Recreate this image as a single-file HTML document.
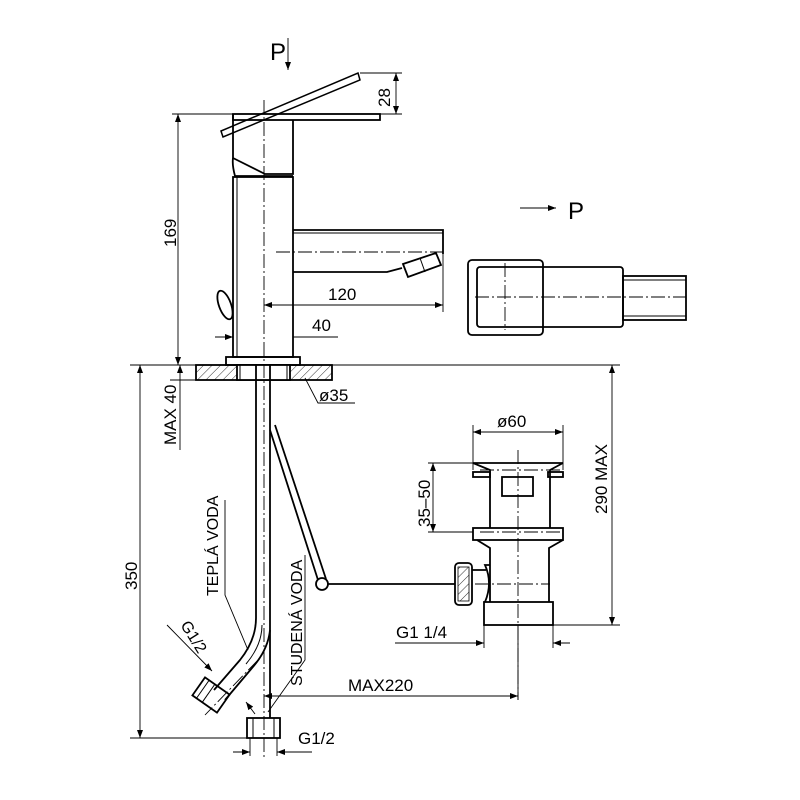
<!DOCTYPE html>
<html><head><meta charset="utf-8"><style>body{margin:0;background:#fff}svg{display:block}text{font-family:"Liberation Sans",sans-serif;fill:#000}</style></head><body>
<svg width="800" height="800" viewBox="0 0 800 800" xmlns="http://www.w3.org/2000/svg">
<defs>
<pattern id="h" width="6" height="6" patternUnits="userSpaceOnUse" patternTransform="rotate(45)"><line x1="0" y1="0" x2="0" y2="6" stroke="#000" stroke-width="0.8"/></pattern>
<marker id="a" markerWidth="8" markerHeight="6" refX="8" refY="3" orient="auto-start-reverse" markerUnits="userSpaceOnUse"><path d="M0,0 L8,3 L0,6z" fill="#000"/></marker>
</defs>
<g fill="none" stroke="#000" stroke-width="1.8">
<rect x="233" y="114" width="147" height="6"/>
<path d="M221,131 L358,73 L360,80 L223,137z" stroke-width="1.5"/>
<path d="M233,114 V158 L265,174 H293 V120"/>
<path d="M233,158 Q232,165 235,176 H293"/>
<rect x="233" y="177" width="60" height="180"/>
<line x1="237" y1="177" x2="237" y2="357" stroke-width="1"/>
<rect x="226" y="357" width="74" height="8"/>
<path d="M293,230 H443 V254 M293,272 H387 L402,268"/>
<line x1="293" y1="233" x2="443" y2="233" stroke-width="1"/>
<path d="M403,264 L436,253 L441,265 L408,277z"/>
<line x1="420" y1="258" x2="425" y2="272" stroke-width="1"/>
<ellipse cx="225" cy="305" rx="6" ry="15" transform="rotate(-20 225 305)"/>
<rect x="196" y="365" width="136" height="15" fill="url(#h)"/>
<rect x="237" y="365" width="53" height="15" fill="#fff"/>
<line x1="240" y1="365" x2="240" y2="380" stroke-width="1"/>
<line x1="287" y1="365" x2="287" y2="380" stroke-width="1"/>
<line x1="270" y1="365" x2="270" y2="718"/>
<path d="M256,365 V618 Q256,640 240,660 L214,690"/>
<path d="M270,630 Q268,650 252,668 L225,700"/>
<path d="M262,625 Q262,645 246,664" stroke-width="1"/>
<g transform="rotate(35 211 695)"><rect x="196" y="684" width="30" height="22"/><line x1="201" y1="684" x2="201" y2="706" stroke-width="1"/><line x1="208" y1="684" x2="208" y2="706" stroke-width="1"/></g>
<rect x="247" y="718" width="33" height="20"/>
<line x1="253" y1="718" x2="253" y2="738" stroke-width="1"/><line x1="274" y1="718" x2="274" y2="738" stroke-width="1"/>
<path d="M270,430 L318,580 M275,425 L326,579"/>
<circle cx="322" cy="584" r="6"/>
<line x1="328" y1="584" x2="455" y2="584"/>
<rect x="455" y="563" width="17" height="42" rx="4"/>
<rect x="458" y="567" width="11" height="34" fill="url(#h)" stroke-width="0.8"/>
<path d="M473,463 H563 L550,470 V528 M473,463 L490,470 V528"/>
<rect x="473" y="472" width="17" height="5"/><rect x="548" y="472" width="15" height="5"/>
<rect x="502" y="477" width="31" height="19"/>
<rect x="473" y="528" width="90" height="12"/>
<path d="M477,540 L490,548 V602 M563,540 L549,548 V602"/>
<path d="M490,565 H485 Q493,583 485,602 M472,570 H486"/>
<rect x="484" y="602" width="69" height="23"/>
<rect x="468" y="260" width="75" height="75" rx="4"/>
<rect x="477" y="267" width="146" height="60" rx="3"/>
<rect x="623" y="276" width="63" height="44"/>
<line x1="623" y1="280" x2="686" y2="280" stroke-width="1"/>
<line x1="623" y1="316" x2="686" y2="316" stroke-width="1"/>
</g>
<g fill="none" stroke="#000" stroke-width="0.9">
<g stroke-dasharray="14,3,2,3">
<line x1="264" y1="100" x2="264" y2="760"/>
<line x1="276" y1="252" x2="443" y2="252"/>
<line x1="518" y1="450" x2="518" y2="700"/>
<line x1="475" y1="584" x2="550" y2="584"/>
<line x1="475" y1="297" x2="686" y2="297"/>
<line x1="505" y1="263" x2="505" y2="330"/>
<line x1="480" y1="470" x2="560" y2="470"/>
<line x1="480" y1="532" x2="560" y2="532"/>
<line x1="258" y1="660" x2="205" y2="715"/>
</g>
<line x1="288" y1="38" x2="288" y2="70" marker-end="url(#a)"/>
<line x1="360" y1="73" x2="402" y2="73"/><line x1="380" y1="114" x2="402" y2="114"/>
<line x1="396" y1="73" x2="396" y2="114" marker-start="url(#a)" marker-end="url(#a)"/>
<line x1="172" y1="114" x2="233" y2="114"/>
<line x1="178" y1="114" x2="178" y2="365" marker-start="url(#a)" marker-end="url(#a)"/>
<line x1="443" y1="254" x2="443" y2="312"/>
<line x1="264" y1="305" x2="443" y2="305" marker-start="url(#a)" marker-end="url(#a)"/>
<line x1="215" y1="337" x2="233" y2="337" marker-end="url(#a)"/>
<line x1="293" y1="337" x2="338" y2="337"/>
<line x1="130" y1="365" x2="620" y2="365"/>
<line x1="170" y1="380" x2="196" y2="380"/>
<line x1="180" y1="365" x2="180" y2="450" marker-start="url(#a)"/>
<line x1="140" y1="365" x2="140" y2="738" marker-start="url(#a)" marker-end="url(#a)"/>
<line x1="130" y1="738" x2="247" y2="738"/>
<polyline points="305,378 318,403 355,403"/>
<line x1="473" y1="425" x2="473" y2="470"/><line x1="563" y1="425" x2="563" y2="470"/>
<line x1="473" y1="432" x2="563" y2="432" marker-start="url(#a)" marker-end="url(#a)"/>
<line x1="428" y1="463" x2="473" y2="463"/><line x1="428" y1="532" x2="473" y2="532"/>
<line x1="433" y1="463" x2="433" y2="532" marker-start="url(#a)" marker-end="url(#a)"/>
<line x1="612" y1="365" x2="612" y2="625" marker-start="url(#a)" marker-end="url(#a)"/>
<line x1="553" y1="625" x2="620" y2="625"/>
<line x1="395" y1="643" x2="484" y2="643" marker-end="url(#a)"/>
<line x1="484" y1="625" x2="484" y2="648"/><line x1="553" y1="625" x2="553" y2="648"/>
<line x1="553" y1="643" x2="570" y2="643" marker-start="url(#a)"/>
<line x1="264" y1="696" x2="518" y2="696" marker-start="url(#a)" marker-end="url(#a)"/>
<line x1="518" y1="625" x2="518" y2="700"/>
<line x1="250" y1="738" x2="250" y2="756"/><line x1="277" y1="738" x2="277" y2="756"/>
<line x1="233" y1="752" x2="250" y2="752" marker-end="url(#a)"/>
<line x1="277" y1="752" x2="312" y2="752" marker-start="url(#a)"/>
<line x1="167" y1="625" x2="212" y2="671" marker-end="url(#a)"/>
<line x1="246" y1="702" x2="255" y2="714" marker-start="url(#a)"/>
<line x1="520" y1="208" x2="556" y2="208" marker-end="url(#a)"/>
<polyline points="225,500 225,595 248,650"/>
<polyline points="305,555 305,660 268,712"/>
</g>
<text x="270" y="60" font-size="24">P</text>
<text x="568" y="219" font-size="24">P</text>
<text font-size="17" transform="translate(390,107) rotate(-90)">28</text>
<text font-size="17" transform="translate(176,247) rotate(-90)">169</text>
<text x="328" y="300" font-size="17">120</text>
<text x="312" y="331" font-size="17">40</text>
<text font-size="17" transform="translate(176,445) rotate(-90)">MAX 40</text>
<text x="319" y="401" font-size="17">ø35</text>
<text x="497" y="427" font-size="17">ø60</text>
<text font-size="17" transform="translate(430,527) rotate(-90)">35–50</text>
<text font-size="17" transform="translate(607,514) rotate(-90)">290 MAX</text>
<text font-size="17" transform="translate(137,590) rotate(-90)">350</text>
<text x="396" y="638" font-size="17">G1  1/4</text>
<text x="348" y="691" font-size="17">MAX220</text>
<text x="298" y="744" font-size="17">G1/2</text>
<text font-size="16" transform="translate(218,596) rotate(-90)">TEPLÁ VODA</text>
<text font-size="16" transform="translate(302,686) rotate(-90)">STUDENÁ VODA</text>
<text font-size="16" transform="translate(180,625) rotate(58)">G1/2</text>
</svg>
</body></html>
